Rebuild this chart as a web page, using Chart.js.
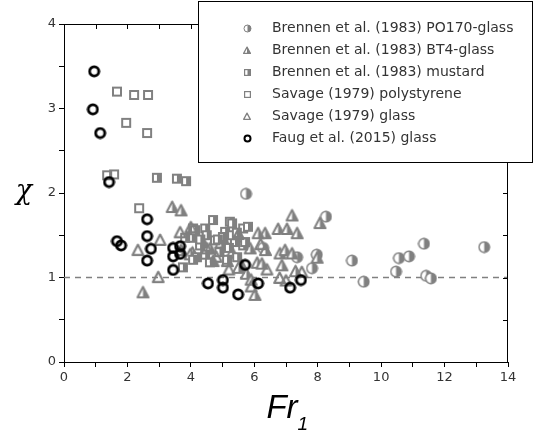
<!DOCTYPE html>
<html><head><meta charset="utf-8">
<script src="https://cdn.jsdelivr.net/npm/chart.js@4/dist/chart.umd.min.js"></script>
<style>html,body{margin:0;padding:0;background:#fff}#wrap{width:537px;height:436px;position:relative}</style>
</head><body><div id="wrap"><canvas id="c" width="537" height="436"></canvas></div>
<script>
// ---- data (Fr1, chi) ----
const brennenPO170 = [[5.74,1.99],[6.28,1.35],[7.35,1.24],[7.97,1.27],[7.82,1.11],[8.26,1.72],[9.08,1.20],[9.45,0.95],[10.47,1.07],[10.56,1.23],[10.88,1.25],[11.35,1.40],[11.42,1.02],[11.57,0.99],[13.25,1.36]];
const brennenBT4 = [[2.49,0.83],[3.41,1.84],[3.69,1.80],[3.69,1.33],[4.05,1.30],[4.38,1.42],[4.70,1.20],[5.01,1.47],[5.30,1.30],[5.60,1.15],[5.87,1.35],[5.75,1.05],[6.02,0.80],[6.09,1.18],[6.24,1.17],[6.34,1.53],[6.75,1.58],[6.81,1.29],[6.87,1.15],[6.97,1.33],[7.03,1.58],[7.19,1.74],[7.19,1.29],[7.35,1.53],[7.30,1.08],[7.98,1.24],[8.07,1.65],[5.90,0.98],[3.98,1.28],[4.95,1.42],[5.15,1.20],[6.12,1.53],[6.35,1.33],[4.60,1.35],[5.50,1.12]];
const brennenMustard = [[2.93,2.18],[3.56,2.17],[3.85,2.14],[4.07,1.58],[4.03,1.47],[4.29,1.38],[4.45,1.58],[4.70,1.68],[4.76,1.44],[5.08,1.54],[5.23,1.66],[5.39,1.42],[5.65,1.58],[5.65,1.38],[4.19,1.24],[4.60,1.18],[5.14,1.21],[5.46,1.24],[4.90,1.30],[5.30,1.50],[4.50,1.50],[5.80,1.60],[3.82,1.47],[4.13,1.56],[5.01,1.48],[5.71,1.42],[4.45,1.27],[4.07,1.21],[3.75,1.12],[5.30,1.64],[4.85,1.45],[5.20,1.35],[4.30,1.45],[5.45,1.53]];
const savagePolystyrene = [[1.67,3.20],[2.21,3.16],[2.65,3.16],[1.96,2.83],[2.62,2.71],[1.36,2.21],[1.58,2.22],[2.37,1.82]];
const savageGlass = [[2.33,1.33],[2.97,1.01],[3.03,1.45],[3.66,1.54],[4.00,1.60],[4.50,1.35],[4.80,1.25],[5.20,1.10],[5.50,1.52],[6.20,1.40],[6.40,1.10],[6.80,1.00],[7.00,0.97],[7.50,1.07],[5.90,0.90]];
const faugGlass = [[0.95,3.44],[0.91,2.99],[1.14,2.71],[1.42,2.13],[1.67,1.43],[1.80,1.38],[2.62,1.69],[2.62,1.49],[2.74,1.34],[2.62,1.20],[3.44,1.35],[3.66,1.37],[3.44,1.25],[3.66,1.28],[3.44,1.09],[5.71,1.15],[4.54,0.93],[5.01,0.97],[5.01,0.88],[5.49,0.80],[6.12,0.93],[7.13,0.88],[7.47,0.97]];
const seriesNames = ['Brennen et al. (1983) PO170-glass','Brennen et al. (1983) BT4-glass','Brennen et al. (1983) mustard','Savage (1979) polystyrene','Savage (1979) glass','Faug et al. (2015) glass'];
const xTickValues = [0,2,4,6,8,10,12,14];
const yTickValues = [0,1,2,3,4];
const refLine = [[0,1],[14,1]];

const GRAY = '#808080';
function mk(s, draw){const c=document.createElement('canvas');c.width=s;c.height=s;const g=c.getContext('2d');draw(g,s);return c;}
function halfCircle(s,lw){return mk(s,(g,s)=>{const c=s/2,r=s/2-1;g.fillStyle='#fff';g.beginPath();g.arc(c,c,r,0,2*Math.PI);g.fill();g.fillStyle=GRAY;g.beginPath();g.moveTo(c,c-r);g.arc(c,c,r,-Math.PI/2,Math.PI/2);g.closePath();g.fill();g.strokeStyle=GRAY;g.lineWidth=lw;g.beginPath();g.arc(c,c,r-lw/2+0.5,0,2*Math.PI);g.stroke();});}
function halfSquare(s,lw){return mk(s,(g,s)=>{g.fillStyle='#fff';g.fillRect(1,1,s-2,s-2);g.fillStyle=GRAY;g.fillRect(s/2,1,s/2-1,s-2);g.strokeStyle=GRAY;g.lineWidth=lw;g.strokeRect(1+lw/2,1+lw/2,s-2-lw,s-2-lw);});}
function halfTri(s,lw){return mk(s,(g,s)=>{const c=s/2;const p=[[c,1.5],[s-1,s-1],[1,s-1]];g.fillStyle='#fff';g.beginPath();g.moveTo(...p[0]);g.lineTo(...p[1]);g.lineTo(...p[2]);g.closePath();g.fill();g.fillStyle=GRAY;g.beginPath();g.moveTo(c,1.5);g.lineTo(s-1,s-1);g.lineTo(c,s-1);g.closePath();g.fill();g.strokeStyle=GRAY;g.lineWidth=lw;g.lineJoin='round';g.beginPath();g.moveTo(c,1.5+lw/2);g.lineTo(s-1-lw/2,s-1-lw/2);g.lineTo(1+lw/2,s-1-lw/2);g.closePath();g.stroke();});}
function openSquare(s,lw){return mk(s,(g,s)=>{g.strokeStyle=GRAY;g.lineWidth=lw;g.strokeRect(1+lw/2,1+lw/2,s-2-lw,s-2-lw);});}
function openTri(s,lw){return mk(s,(g,s)=>{const c=s/2;g.strokeStyle=GRAY;g.lineWidth=lw;g.lineJoin='round';g.beginPath();g.moveTo(c,1.5+lw/2);g.lineTo(s-1-lw/2,s-1-lw/2);g.lineTo(1+lw/2,s-1-lw/2);g.closePath();g.stroke();});}
function ring(s,lw){return mk(s,(g,s)=>{const c=s/2;g.strokeStyle='#000';g.lineWidth=lw;g.beginPath();g.arc(c,c,s/2-lw/2-0.5,0,2*Math.PI);g.stroke();});}

const markers=[halfCircle(13,1.5),halfTri(15,2),halfSquare(12,2),openSquare(12,2),openTri(15,2.2),ring(13,2.8)];
const legendMarkers=[halfCircle(9,1),halfTri(10,1.2),halfSquare(9,1.2),openSquare(9,1.2),openTri(10,1.3),ring(9,2)];
const seriesData=[brennenPO170,brennenBT4,brennenMustard,savagePolystyrene,savageGlass,faugGlass];
const orders=[5,4,3,2,1,0];

const datasets = seriesData.map((d,i)=>({label:seriesNames[i],data:d.map(p=>({x:p[0],y:p[1]})),pointStyle:markers[i],pointRadius:6,order:orders[i]}));
datasets.push({type:'line',label:'ref',data:refLine.map(p=>({x:p[0],y:p[1]})),borderColor:GRAY,borderWidth:1.5,borderDash:[6,5],pointRadius:0,order:20});

const framePlugin={id:'frame',afterDraw(chart){
  const {ctx,chartArea:a,scales:{x,y}}=chart;
  ctx.save();
  ctx.strokeStyle='#000';ctx.lineWidth=1;
  ctx.beginPath();ctx.moveTo(a.left,a.top+0.5);ctx.lineTo(a.right,a.top+0.5);ctx.moveTo(a.right-0.5,a.top);ctx.lineTo(a.right-0.5,a.bottom);ctx.stroke();
  ctx.beginPath();
  for(let v=0;v<=4;v+=0.5){const py=Math.round(y.getPixelForValue(v))+0.5;ctx.moveTo(a.right-5,py);ctx.lineTo(a.right,py);}
  for(let v=0;v<=14;v+=1){const px=Math.round(x.getPixelForValue(v))+0.5;ctx.moveTo(px,a.top);ctx.lineTo(px,a.top+5);}
  ctx.stroke();
  // axis titles
  ctx.fillStyle='#000';
  ctx.font='italic 27px "DejaVu Serif"';ctx.textAlign='center';ctx.textBaseline='middle';
  ctx.fillText('\u03C7',24,192);
  ctx.textAlign='left';ctx.textBaseline='alphabetic';
  ctx.font='italic 33px "Liberation Sans"';
  const cx=x.getPixelForValue(7);
  const wFr=ctx.measureText('Fr').width;
  ctx.fillText('Fr',cx-wFr/2-4,418);
  ctx.font='italic 19px "Liberation Sans"';
  ctx.fillText('1',cx+wFr/2-4,430);
  // legend
  ctx.fillStyle='#fff';ctx.fillRect(198,1,334,161);
  ctx.strokeStyle='#000';ctx.lineWidth=1;ctx.strokeRect(198.5,1.5,334,161);
  ctx.font='14px "DejaVu Sans"';ctx.fillStyle='#333';ctx.textBaseline='middle';
  const rows=[28,50,72,94,116,138];
  for(let i=0;i<6;i++){const m=legendMarkers[i];ctx.drawImage(m,Math.round(247-m.width/2),Math.round(rows[i]-m.height/2));ctx.fillText(seriesNames[i],272,rows[i]);}
  ctx.restore();
}};

new Chart(document.getElementById('c'),{
  type:'scatter',
  data:{datasets},
  options:{
    responsive:false,animation:false,
    layout:{padding:{left:0,right:29,top:24,bottom:0}},
    plugins:{legend:{display:false},tooltip:{enabled:false}},
    scales:{
      x:{type:'linear',min:0,max:14,
        afterFit(s){s.height=74;},
        border:{display:true,color:'#000',width:1},
        grid:{drawOnChartArea:false,drawTicks:true,tickLength:5,tickColor:'#000'},
        ticks:{stepSize:1,autoSkip:false,maxRotation:0,padding:3,color:'#333',font:{family:'DejaVu Sans',size:13},
          callback:v=>xTickValues.includes(v)?String(v):''}},
      y:{type:'linear',min:0,max:4,
        afterFit(s){s.width=64;},
        border:{display:true,color:'#000',width:1},
        grid:{drawOnChartArea:false,drawTicks:true,tickLength:5,tickColor:'#000'},
        ticks:{stepSize:0.5,autoSkip:false,padding:3,color:'#333',font:{family:'DejaVu Sans',size:13},
          callback:v=>yTickValues.includes(v)?String(v):''}}
    }
  },
  plugins:[framePlugin]
});
</script></body></html>
